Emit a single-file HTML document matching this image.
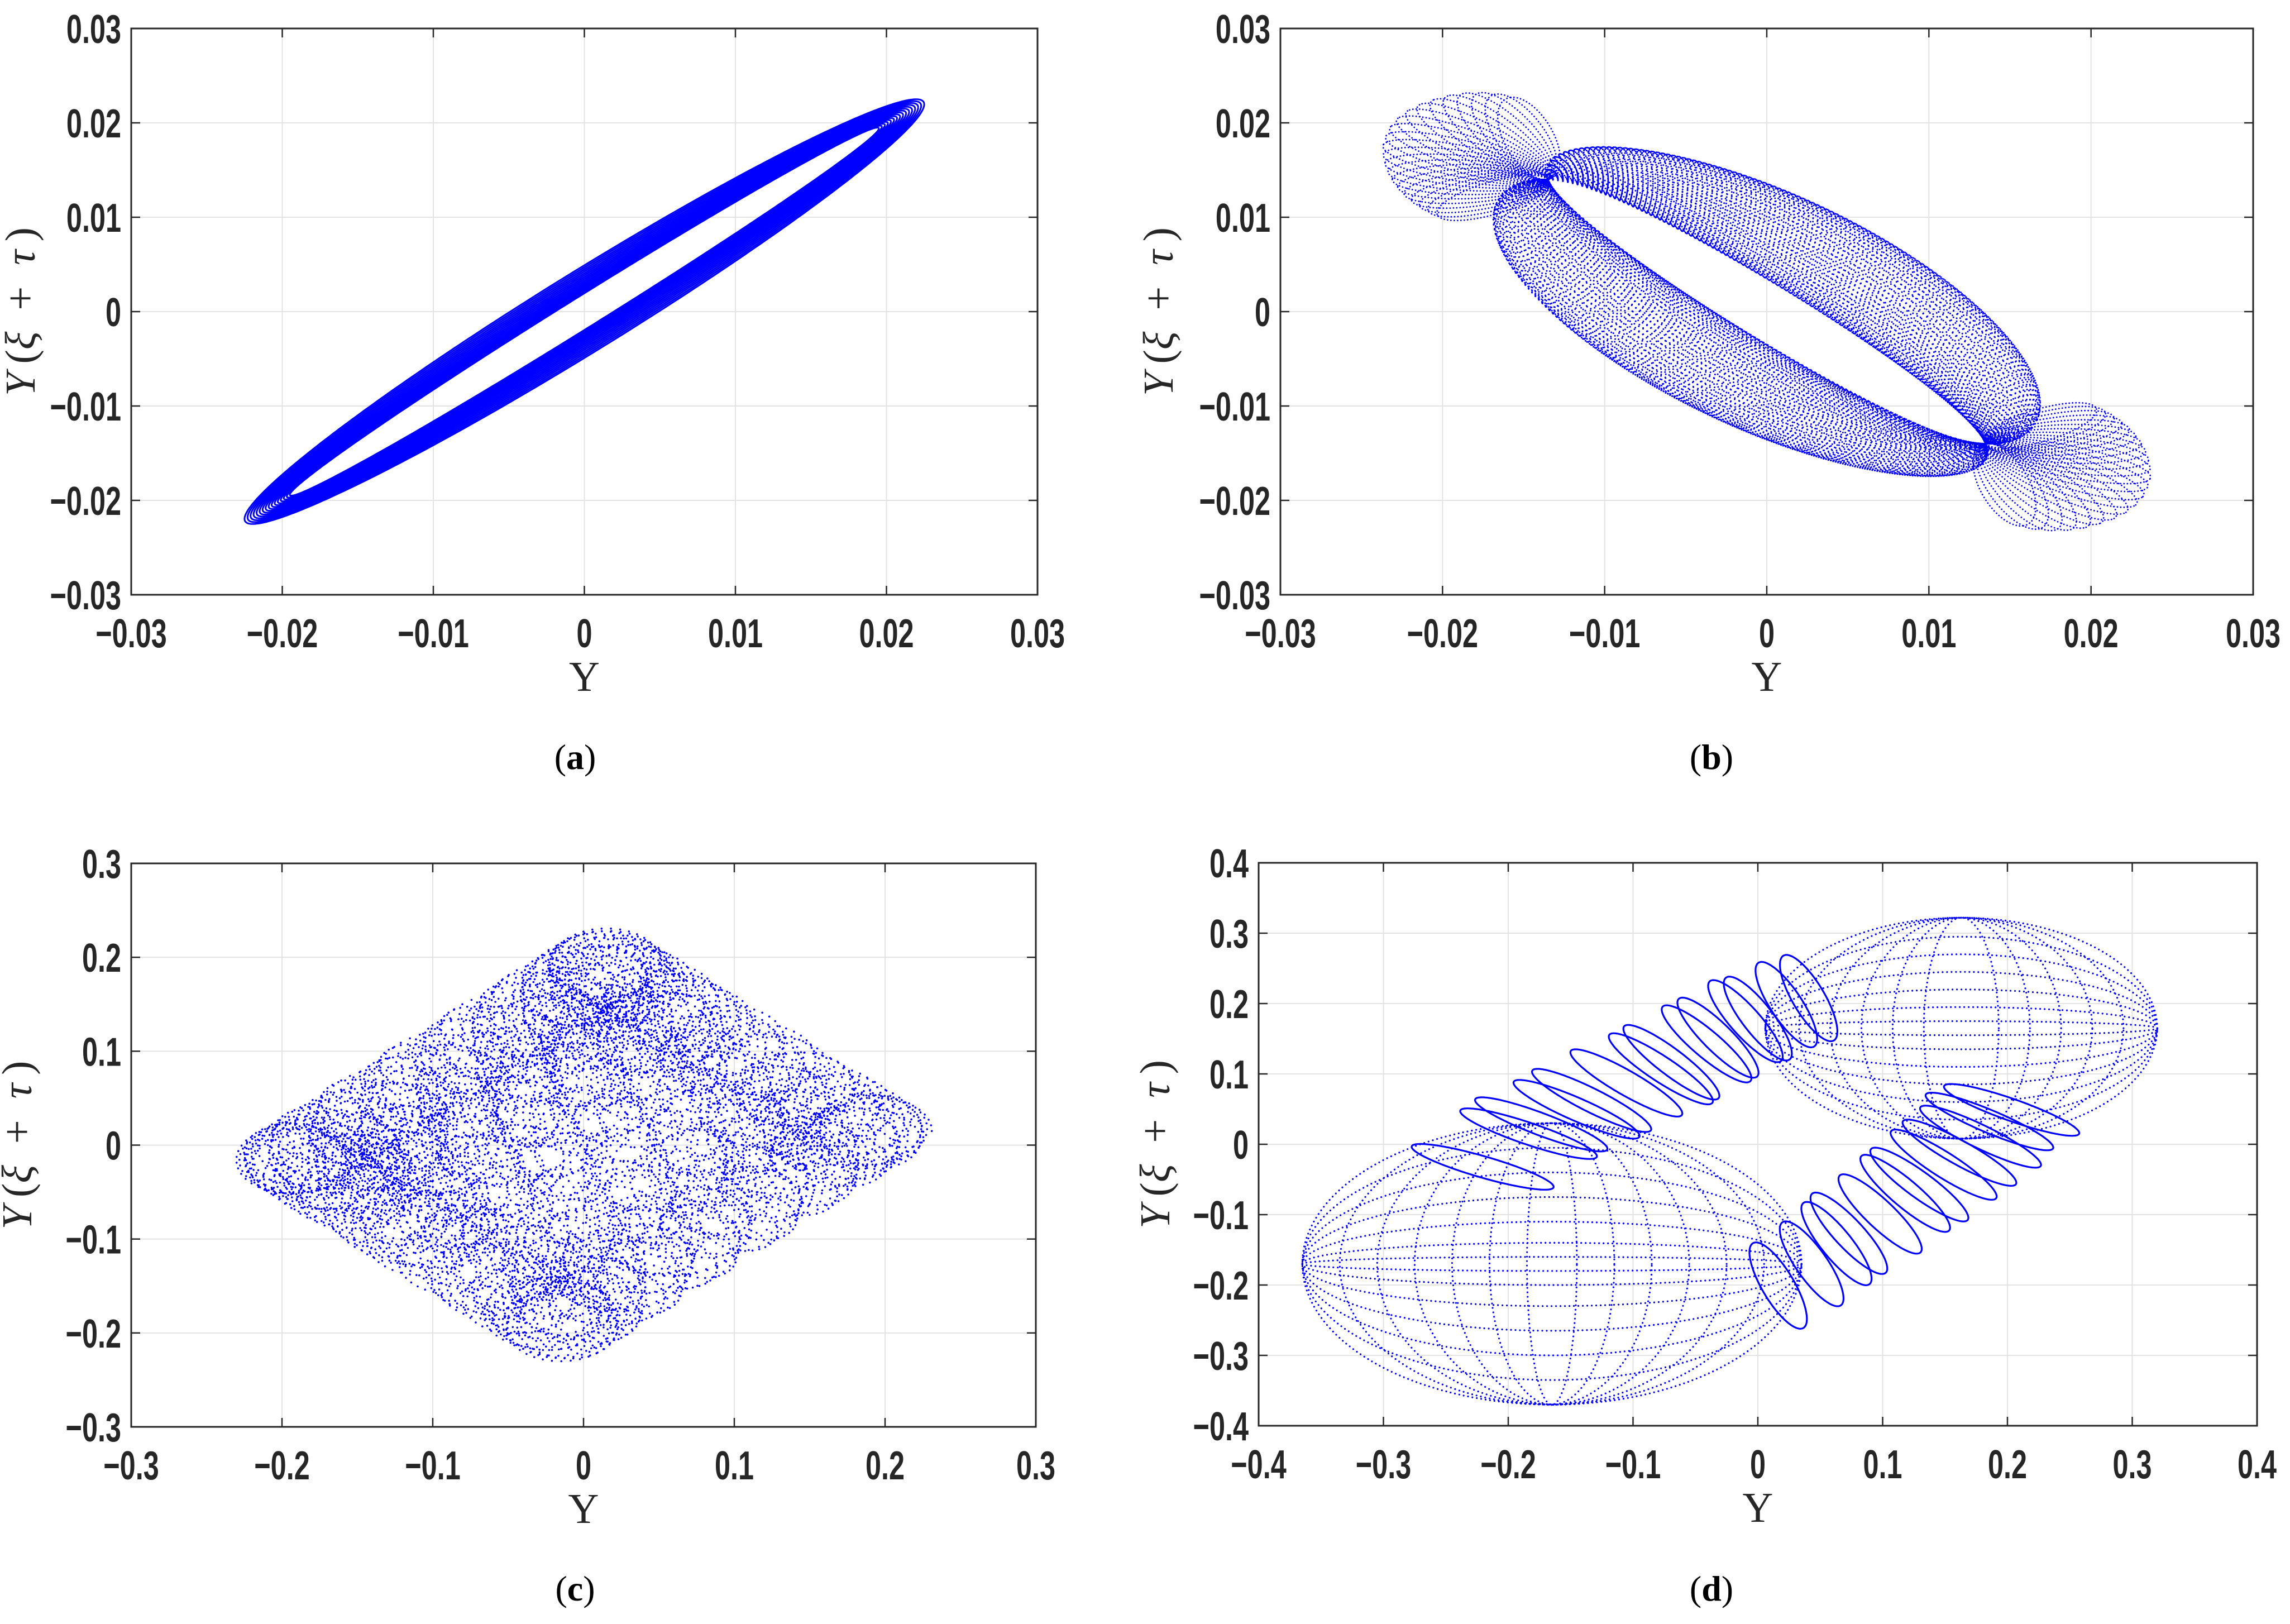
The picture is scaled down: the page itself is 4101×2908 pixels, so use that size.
<!DOCTYPE html>
<html><head><meta charset="utf-8"><style>
html,body{margin:0;padding:0;background:#fff;}
svg{display:block;}
.tk{font-family:"Liberation Sans",sans-serif;font-weight:bold;font-size:72px;fill:#262626;}
.lab{font-family:"Liberation Serif",serif;font-size:76px;fill:#262626;}
.cap{font-family:"Liberation Serif",serif;font-size:64px;fill:#000;}
</style></head><body>
<svg id="fig" xmlns="http://www.w3.org/2000/svg" width="4101" height="2908" viewBox="0 0 4101 2908">
<rect width="4101" height="2908" fill="#fff"/>
</svg>
<script>
// ---- data ----
const ticksAB = [-0.03,-0.02,-0.01,0,0.01,0.02,0.03];
const labelsAB = ["\u22120.03","\u22120.02","\u22120.01","0","0.01","0.02","0.03"];
const ticksC = [-0.3,-0.2,-0.1,0,0.1,0.2,0.3];
const labelsC = ["\u22120.3","\u22120.2","\u22120.1","0","0.1","0.2","0.3"];
const ticksD = [-0.4,-0.3,-0.2,-0.1,0,0.1,0.2,0.3,0.4];
const labelsD = ["\u22120.4","\u22120.3","\u22120.2","\u22120.1","0","0.1","0.2","0.3","0.4"];
// panel a: ellipse family amplitude & phase
const aAmp = [0.0195,0.0197,0.0199,0.0201,0.0203,0.0205,0.0207,0.0209,0.0211,0.0213,0.0215,0.0217,0.0219,0.0221,0.0223,0.0225];
const aPhase = [0.10,0.108,0.116,0.124,0.132,0.14,0.148,0.156,0.164,0.172,0.18,0.188,0.196,0.204,0.212,0.22];
// panel b: pivot, ring axis (deg), ring-family parameters, tip fan loops (angle deg, length)
const bPivot = [-0.0135,0.014];
const bAxisDeg = [140.1];
const bAlphaAmp = [0.007];
const bBetaMid = [0.0065];
const bBetaAmp = [0.004];
const bCount = [60];
const bFanAngle = [105,110,115,120,125,130,135,140,145,150,155,160,165,170,175,180,185,190,195,200,205,210];
const bFanLen   = [0.009,0.0096,0.0101,0.0105,0.0108,0.011,0.0112,0.0113,0.0113,0.0112,0.011,0.0108,0.0105,0.0102,0.0099,0.0096,0.0093,0.009,0.0087,0.0084,0.0081,0.0078];
const bFanWidth = [0.0016];
// panel c: parallelogram drive vectors, circle radius, frequencies
const cVecA = [0.09,-0.09];
const cVecB = [0.105,0.105];
const cRadius = [0.036];
const cFreq = [0.0877,1,16.3];
const cCycles = [20];
// panel d: ellipse meshes (center x, center y, rx, ry)
const dCx = [-0.165,-0.165,-0.165,-0.165,-0.165,-0.165,-0.165,-0.165,-0.165,-0.165,-0.165,-0.165,-0.165, 0.163,0.163,0.163,0.163,0.163,0.163,0.163,0.163,0.163,0.163,0.163,0.163];
const dCy = [-0.17,-0.17,-0.17,-0.17,-0.17,-0.17,-0.17,-0.17,-0.17,-0.17,-0.17,-0.17,-0.17, 0.165,0.165,0.165,0.165,0.165,0.165,0.165,0.165,0.165,0.165,0.165,0.165];
const dRx = [0.2,0.17,0.14,0.11,0.08,0.05,0.02,0.2,0.2,0.2,0.2,0.2,0.2, 0.157,0.13,0.105,0.08,0.055,0.03,0.157,0.157,0.157,0.157,0.157,0.157];
const dRy = [0.2,0.2,0.2,0.2,0.2,0.2,0.2,0.165,0.13,0.095,0.06,0.03,0.01, 0.157,0.157,0.157,0.157,0.157,0.157,0.13,0.105,0.08,0.055,0.03,0.01];
// panel d: upper-left loop chain (outer end points, tilt in degrees)
const dUpEndX = [-0.277,-0.238,-0.226,-0.195,-0.180,-0.149,-0.118,-0.106,-0.075,-0.062,-0.037,-0.024,0.002,0.022];
const dUpEndY = [-0.002,0.049,0.065,0.090,0.106,0.134,0.157,0.169,0.197,0.208,0.233,0.238,0.259,0.269];
const dUpAngle = [28,32,35,39,43,47,51,55,58,62,65,68,71,73];
// panel d: lower-right loop chain (outer end points, tilt in degrees)
const dLoEndX = [0.257,0.236,0.226,0.206,0.190,0.167,0.152,0.129,0.101,0.088,0.065,0.035];
const dLoEndY = [0.014,-0.007,-0.032,-0.058,-0.078,-0.109,-0.124,-0.155,-0.184,-0.200,-0.230,-0.262];
const dLoAngle = [33,38,42,46,50,54,58,61,64,67,70,73];
const dLoopR = [0.064,0.014];

const NS = "http://www.w3.org/2000/svg";
const svg = document.getElementById('fig');
function mk(tag, attrs, parent){const e=document.createElementNS(NS,tag);for(const k in attrs)e.setAttribute(k,attrs[k]);(parent||svg).appendChild(e);return e;}

function panel(cfg){
  const g = mk('g',{});
  
  
  const sx = v => cfg.x0 + (v - cfg.lo)/(cfg.hi - cfg.lo)*(cfg.x1 - cfg.x0);
  const sy = v => cfg.y1 - (v - cfg.lo)/(cfg.hi - cfg.lo)*(cfg.y1 - cfg.y0);
  cfg.ticks.forEach((t,i)=>{
    if(i>0 && i<cfg.ticks.length-1){
      const gx = mk('line',{x1:sx(t),x2:sx(t),y1:cfg.y0,y2:cfg.y1,stroke:'#e3e3e3','stroke-width':2},g);
      
      
      const gy = mk('line',{y1:sy(t),y2:sy(t),x1:cfg.x0,x2:cfg.x1,stroke:'#e3e3e3','stroke-width':2},g);
      
      
    }
  });
  const plot = mk('g',{},g);
  
  
  cfg.draw(plot, sx, sy);
  const box = mk('rect',{x:cfg.x0,y:cfg.y0,width:cfg.x1-cfg.x0,height:cfg.y1-cfg.y0,fill:'none',stroke:'#262626','stroke-width':3},g);
  
  
  cfg.ticks.forEach((t,i)=>{
    mk('line',{x1:sx(t),x2:sx(t),y1:cfg.y1,y2:cfg.y1-16,stroke:'#262626','stroke-width':2.5},g);
    mk('line',{x1:sx(t),x2:sx(t),y1:cfg.y0,y2:cfg.y0+16,stroke:'#262626','stroke-width':2.5},g);
    mk('line',{y1:sy(t),y2:sy(t),x1:cfg.x0,x2:cfg.x0+16,stroke:'#262626','stroke-width':2.5},g);
    mk('line',{y1:sy(t),y2:sy(t),x1:cfg.x1,x2:cfg.x1-16,stroke:'#262626','stroke-width':2.5},g);
    const xl = mk('text',{class:'tk','text-anchor':'middle',transform:`translate(${sx(t)},${cfg.y1+94}) scale(0.7,1)`},g);
    xl.textContent = cfg.labels[i];
    
    
    const yl = mk('text',{class:'tk','text-anchor':'end',transform:`translate(${cfg.x0-18},${sy(t)+26}) scale(0.7,1)`},g);
    yl.textContent = cfg.labels[i];
    
    
  });
  const xt = mk('text',{class:'lab','text-anchor':'middle',x:(cfg.x0+cfg.x1)/2,y:cfg.y1+172},g);
  xt.textContent='Y';
  
  
  const cy=(cfg.y0+cfg.y1)/2;
  const yt = mk('text',{class:'lab','text-anchor':'middle',transform:`translate(${cfg.ylx},${cy}) rotate(-90)`},g);
  yt.innerHTML = '<tspan font-style="italic">Y</tspan>\u2009(<tspan font-style="italic">ξ</tspan>\u2002+\u2002<tspan font-style="italic">τ</tspan>\u2009)';
  
  
  const cp = mk('text',{class:'cap','text-anchor':'middle',x:cfg.capx,y:cfg.capy},g);
  cp.innerHTML = '(<tspan font-weight="bold">'+cfg.id+'</tspan>)';
  
  
}

function polyPath(fn, n, sx, sy){
  let d='';
  for(let i=0;i<=n;i++){const t=i/n*2*Math.PI;const p=fn(t);d+=(i?'L':'M')+sx(p[0]).toFixed(1)+' '+sy(p[1]).toFixed(1);}
  return d;
}
function rotEllipse(cx,cy,a,b,th){
  return t=>{const u=a*Math.cos(t),v=b*Math.sin(t);return [cx+u*Math.cos(th)-v*Math.sin(th),cy+u*Math.sin(th)+v*Math.cos(th)];};
}

// Panel a
panel({id:'a',x0:235,x1:1858,y0:51,y1:1065,lo:-0.03,hi:0.03,ticks:ticksAB,labels:labelsAB,ylx:62,capx:1030,capy:1377,
  draw:(g,sx,sy)=>{
    aAmp.forEach((A,i)=>{
      const ph=aPhase[i];
      const p = mk('path',{d:polyPath(t=>[A*Math.cos(t),A*Math.cos(t-ph)],400,sx,sy),fill:'none',stroke:'#0000ff','stroke-width':3},g);
      
      
    });
  }});

// Panel b
panel({id:'b',x0:2293,x1:4035,y0:51,y1:1065,lo:-0.03,hi:0.03,ticks:ticksAB,labels:labelsAB,ylx:2100,capx:3065,capy:1377,
  draw:(g,sx,sy)=>{
    const P=bPivot;
    const ang=bAxisDeg[0]*Math.PI/180;
    const e1=[Math.cos(ang),Math.sin(ang)];
    const e2=[Math.sin(ang),-Math.cos(ang)];
    const nrm=(e2[0]+e2[1]>0)?e2:[-e2[0],-e2[1]];
    const n=bCount[0];
    for(let k=0;k<n;k++){
      const ph=k/n*2*Math.PI;
      const al=bAlphaAmp[0]*Math.cos(ph);
      const be=bBetaMid[0]+bBetaAmp[0]*Math.sin(ph);
      const Q=[al*e1[0]+be*nrm[0], al*e1[1]+be*nrm[1]];
      const p = mk('path',{d:polyPath(t=>[P[0]*Math.cos(t)+Q[0]*Math.sin(t),P[1]*Math.cos(t)+Q[1]*Math.sin(t)],500,sx,sy),fill:'none',stroke:'#0000ff','stroke-width':3,'stroke-dasharray':'0 9','stroke-linecap':'round'},g);
      
      
    }
    [1,-1].forEach(sgn=>{
      bFanAngle.forEach((a,i)=>{
        const th=(a+(sgn<0?180:0))*Math.PI/180, L=bFanLen[i];
        const cx=sgn*P[0]+L/2*Math.cos(th), cy=sgn*P[1]+L/2*Math.sin(th);
        const p = mk('path',{d:polyPath(rotEllipse(cx,cy,L/2,bFanWidth[0],th),140,sx,sy),fill:'none',stroke:'#0000ff','stroke-width':2.8,'stroke-dasharray':'0 6','stroke-linecap':'round'},g);
        
        
      });
    });
  }});

// Panel c
panel({id:'c',x0:235,x1:1855,y0:1546,y1:2555,lo:-0.3,hi:0.3,ticks:ticksC,labels:labelsC,ylx:56,capx:1030,capy:2866,
  draw:(g,sx,sy)=>{
    let d='';
    const T=2*Math.PI*cCycles[0], n=12000;
    for(let i=0;i<n;i++){
      const t=i/n*T;
      const s1=Math.cos(cFreq[0]*t), s2=Math.cos(cFreq[1]*t), a=cFreq[2]*t;
      const x=cVecA[0]*s1+cVecB[0]*s2+cRadius[0]*Math.cos(a);
      const y=cVecA[1]*s1+cVecB[1]*s2+cRadius[0]*Math.sin(a);
      d+='M'+sx(x).toFixed(1)+' '+sy(y).toFixed(1)+'h0';
    }
    const p = mk('path',{d:d,fill:'none',stroke:'#0000ff','stroke-width':3.6,'stroke-linecap':'round'},g);
    
    
  }});

// Panel d
panel({id:'d',x0:2254,x1:4042,y0:1545,y1:2553,lo:-0.4,hi:0.4,ticks:ticksD,labels:labelsD,ylx:2094,capx:3065,capy:2866,
  draw:(g,sx,sy)=>{
    dCx.forEach((cx,i)=>{
      const cy=dCy[i], rx=dRx[i], ry=dRy[i];
      const p = mk('path',{d:polyPath(t=>[cx+rx*Math.cos(t),cy+ry*Math.sin(t)],500,sx,sy),fill:'none',stroke:'#0000ff','stroke-width':3.2,'stroke-dasharray':'0 8','stroke-linecap':'round'},g);
      
      
    });
    const a=dLoopR[0], b=dLoopR[1];
    dUpEndX.forEach((ex,i)=>{
      const th=-dUpAngle[i]*Math.PI/180;
      const cx=ex+a*Math.cos(th), cy=dUpEndY[i]+a*Math.sin(th);
      const p = mk('path',{d:polyPath(rotEllipse(cx,cy,a,b,th),200,sx,sy),fill:'none',stroke:'#0000ff','stroke-width':3.2},g);
      
      
    });
    dLoEndX.forEach((ex,i)=>{
      const th=-dLoAngle[i]*Math.PI/180;
      const cx=ex-a*Math.cos(th), cy=dLoEndY[i]-a*Math.sin(th);
      const p = mk('path',{d:polyPath(rotEllipse(cx,cy,a,b,th),200,sx,sy),fill:'none',stroke:'#0000ff','stroke-width':3.2},g);
      
      
    });
  }});
</script>
</body></html>
